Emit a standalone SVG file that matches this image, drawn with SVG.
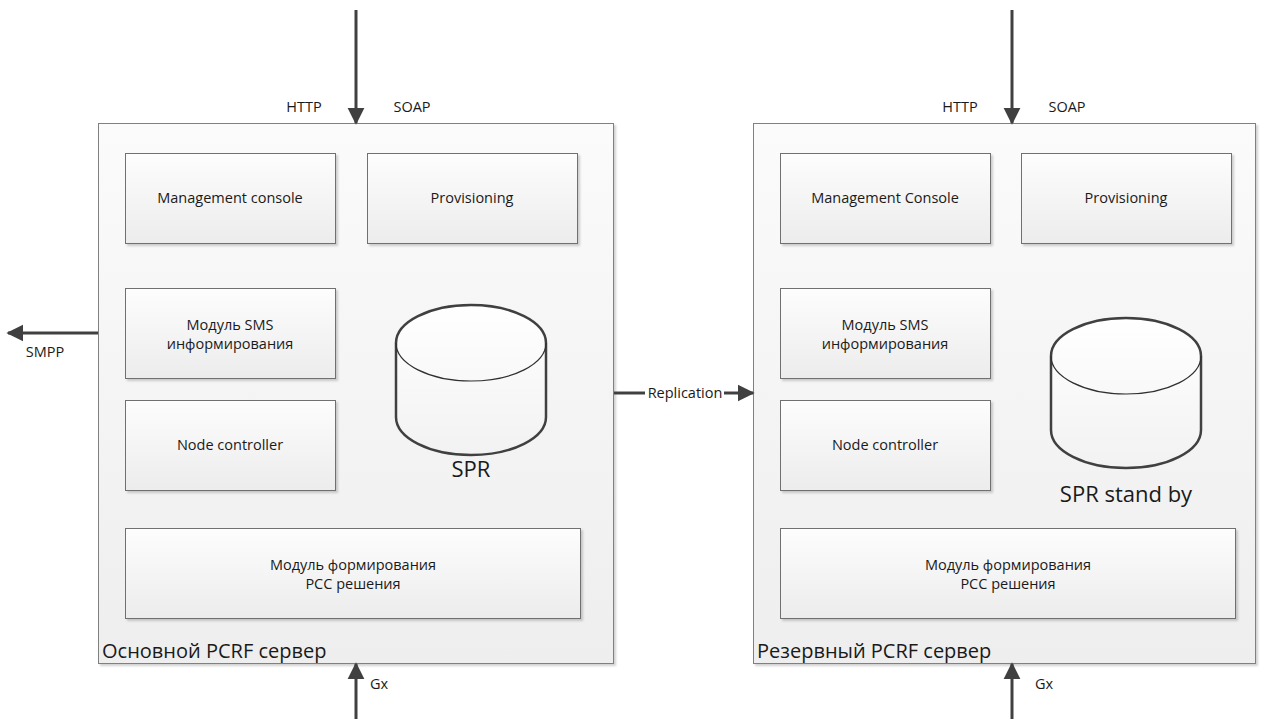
<svg xmlns="http://www.w3.org/2000/svg" width="1262" height="719" viewBox="0 0 1262 719">
  <defs>
    <linearGradient id="outerFill" x1="0" y1="0" x2="0" y2="1">
      <stop offset="0" stop-color="#fbfbfb"/>
      <stop offset="1" stop-color="#eeeeee"/>
    </linearGradient>
    <linearGradient id="boxFill" x1="0" y1="0" x2="0" y2="1">
      <stop offset="0" stop-color="#fdfdfd"/>
      <stop offset="1" stop-color="#ececec"/>
    </linearGradient>
    <linearGradient id="cylFill" x1="0" y1="0" x2="0" y2="1">
      <stop offset="0" stop-color="#ffffff"/>
      <stop offset="1" stop-color="#f2f2f2"/>
    </linearGradient>
    <filter id="shadow" x="-5%" y="-5%" width="110%" height="115%">
      <feDropShadow dx="2" dy="2" stdDeviation="1" flood-color="#000" flood-opacity="0.18"/>
    </filter>
    <marker id="arrow" viewBox="0 0 10 10" refX="9" refY="5" markerWidth="5.7" markerHeight="5.7" markerUnits="strokeWidth" orient="auto">
      <path d="M0,0 L10,5 L0,10 z" fill="#404040"/>
    </marker>
  </defs>
  <style>
    .outer { fill: url(#outerFill); stroke: #808080; stroke-width: 1; filter: url(#shadow); }
    .box { fill: url(#boxFill); stroke: #707070; stroke-width: 1; filter: url(#shadow); }
    .cyl { fill: url(#cylFill); stroke: #404040; stroke-width: 2.5; }
    .rim { fill: none; stroke: #303030; stroke-width: 1.2; }
    .conn { stroke: #404040; stroke-width: 3; fill: none; marker-end: url(#arrow); }
    .line { stroke: #404040; stroke-width: 3; fill: none; }
    .t { font-family: "Open Sans", "Liberation Sans", sans-serif; font-size: 14.5px; fill: #1a1a1a; text-anchor: middle; }
    .big { font-family: "Open Sans", "Liberation Sans", sans-serif; font-size: 22px; fill: #1a1a1a; text-anchor: middle; }
    .title { font-family: "Open Sans", "Liberation Sans", sans-serif; font-size: 20px; fill: #1a1a1a; }
  </style>

  <rect width="1262" height="719" fill="#ffffff"/>

  <!-- Primary server -->
  <g id="primary-server">
    <rect class="outer" x="98.5" y="123.5" width="515" height="540"/>
    <text class="title" x="102" y="658">Основной PCRF сервер</text>
  </g>
  <g id="primary-console">
    <rect class="box" x="125.5" y="153.5" width="210" height="90"/>
    <text class="t" x="230" y="203">Management console</text>
  </g>
  <g id="primary-provisioning">
    <rect class="box" x="367.5" y="153.5" width="210" height="90"/>
    <text class="t" x="472" y="203">Provisioning</text>
  </g>
  <g id="primary-sms">
    <rect class="box" x="125.5" y="288.5" width="210" height="90"/>
    <text class="t" x="230" y="330">Модуль SMS</text>
    <text class="t" x="230" y="349">информирования</text>
  </g>
  <g id="primary-node-controller">
    <rect class="box" x="125.5" y="400.5" width="210" height="90"/>
    <text class="t" x="230" y="450">Node controller</text>
  </g>
  <g id="primary-pcc">
    <rect class="box" x="125.5" y="528.5" width="455" height="90"/>
    <text class="t" x="353" y="570">Модуль формирования</text>
    <text class="t" x="353" y="589">PCC решения</text>
  </g>
  <g id="primary-spr">
    <path class="cyl" d="M396,343 A75,38 0 0 1 546,343 L546,417 A75,38 0 0 1 396,417 Z"/>
    <path class="rim" d="M396,343 A75,38 0 0 0 546,343"/>
    <text class="big" x="471" y="477">SPR</text>
  </g>

  <!-- Standby server -->
  <g id="standby-server">
    <rect class="outer" x="753.5" y="123.5" width="502" height="540"/>
    <text class="title" x="757" y="658">Резервный PCRF сервер</text>
  </g>
  <g id="standby-console">
    <rect class="box" x="780.5" y="153.5" width="210" height="90"/>
    <text class="t" x="885" y="203">Management Console</text>
  </g>
  <g id="standby-provisioning">
    <rect class="box" x="1021.5" y="153.5" width="210" height="90"/>
    <text class="t" x="1126" y="203">Provisioning</text>
  </g>
  <g id="standby-sms">
    <rect class="box" x="780.5" y="288.5" width="210" height="90"/>
    <text class="t" x="885" y="330">Модуль SMS</text>
    <text class="t" x="885" y="349">информирования</text>
  </g>
  <g id="standby-node-controller">
    <rect class="box" x="780.5" y="400.5" width="210" height="90"/>
    <text class="t" x="885" y="450">Node controller</text>
  </g>
  <g id="standby-pcc">
    <rect class="box" x="780.5" y="528.5" width="455" height="90"/>
    <text class="t" x="1008" y="570">Модуль формирования</text>
    <text class="t" x="1008" y="589">PCC решения</text>
  </g>
  <g id="standby-spr">
    <path class="cyl" d="M1051,356 A75,38 0 0 1 1201,356 L1201,430 A75,38 0 0 1 1051,430 Z"/>
    <path class="rim" d="M1051,356 A75,38 0 0 0 1201,356"/>
    <text class="big" x="1126" y="502">SPR stand by</text>
  </g>

  <!-- Connectors -->
  <g id="connectors">
    <line class="conn" x1="356" y1="10" x2="356" y2="123"/>
    <line class="conn" x1="1012" y1="10" x2="1012" y2="123"/>
    <line class="conn" x1="98" y1="333" x2="8" y2="333"/>
    <line class="conn" x1="356" y1="719" x2="356" y2="664"/>
    <line class="conn" x1="1012" y1="719" x2="1012" y2="664"/>
    <line class="line" x1="614" y1="393" x2="645" y2="393"/>
    <line class="conn" x1="724" y1="393" x2="753" y2="393"/>
    <text class="t" x="304" y="112">HTTP</text>
    <text class="t" x="412" y="112">SOAP</text>
    <text class="t" x="960" y="112">HTTP</text>
    <text class="t" x="1067" y="112">SOAP</text>
    <text class="t" x="45" y="357">SMPP</text>
    <text class="t" x="685" y="398">Replication</text>
    <text class="t" x="379" y="689">Gx</text>
    <text class="t" x="1044" y="689">Gx</text>
  </g>
</svg>
